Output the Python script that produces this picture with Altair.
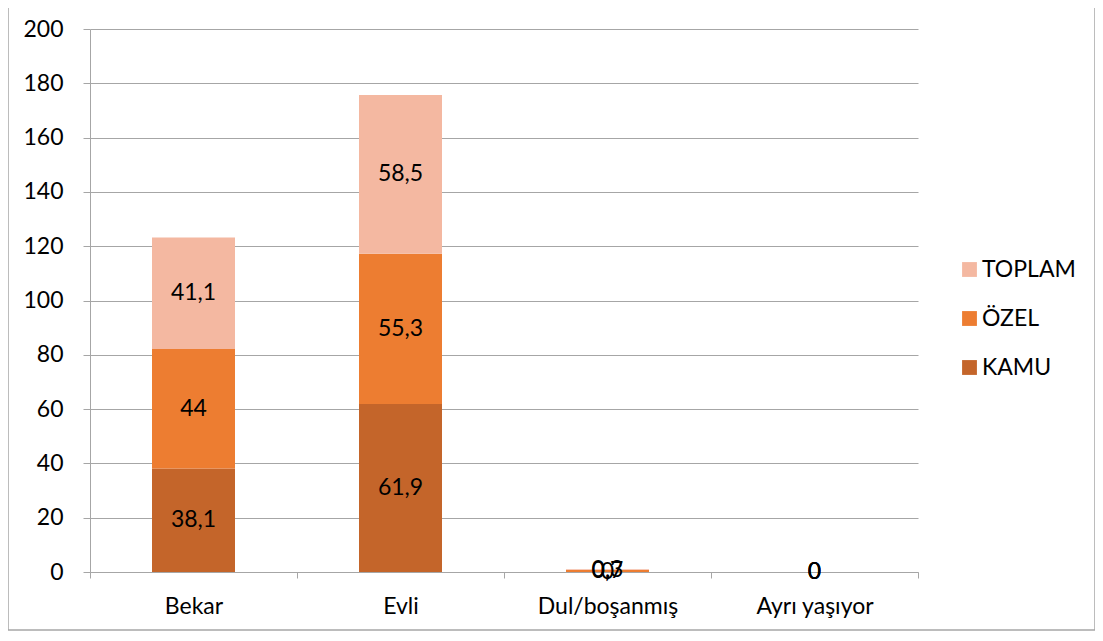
import altair as alt
import pandas as pd

categories = ["Bekar", "Evli", "Dul/boşanmış", "Ayrı yaşıyor"]
series = ["KAMU", "ÖZEL", "TOPLAM"]
kamu = [38.1, 61.9, 0, 0]
ozel = [44, 55.3, 0.7, 0]
toplam = [41.1, 58.5, 0.3, 0]
colors = {"KAMU": "#C4652A", "ÖZEL": "#ED7D31", "TOPLAM": "#F4B8A1"}
legend_order = ["TOPLAM", "ÖZEL", "KAMU"]
y_ticks = [0, 20, 40, 60, 80, 100, 120, 140, 160, 180, 200]

rows = []
for i, c in enumerate(categories):
    for k, (s, vals) in enumerate(zip(series, [kamu, ozel, toplam])):
        rows.append({"cat": c, "series": s, "value": vals[i], "ord": k})
df = pd.DataFrame(rows)

FONT = "Lato"
FS = 23

base = alt.Chart(df).transform_stack(
    stack="value", groupby=["cat"], as_=["y0", "y1"],
    sort=[alt.SortField("ord", order="ascending")]
).transform_calculate(
    mid="(datum.y0 + datum.y1) / 2",
    label="replace(toString(datum.value), '.', ',')"
)

xenc = alt.X("cat:N", sort=categories, title=None,
             scale=alt.Scale(paddingInner=0, paddingOuter=0),
             axis=alt.Axis(labelAngle=0, labelFontSize=FS, labelFont=FONT,
                           labelColor="#000000", tickBand="extent", tickSize=6,
                           tickColor="#A6A6A6", domainColor="#A6A6A6",
                           labelPadding=17, grid=False))

bars = base.mark_bar(size=83).encode(
    x=xenc,
    y=alt.Y("y0:Q", title=None,
            scale=alt.Scale(domain=[0, 200], nice=False),
            axis=alt.Axis(values=y_ticks, labelFontSize=FS, labelFont=FONT,
                          labelColor="#000000", tickSize=7, tickColor="#A6A6A6",
                          domainColor="#A6A6A6", gridColor="#A6A6A6",
                          labelPadding=20)),
    y2="y1:Q",
    color=alt.Color("series:N",
                    scale=alt.Scale(domain=legend_order,
                                    range=[colors[s] for s in legend_order]),
                    legend=alt.Legend(title=None, orient="none", legendX=868,
                                      legendY=229, symbolType="square",
                                      symbolSize=220, symbolStrokeWidth=0,
                                      labelFontSize=FS, labelFont=FONT,
                                      labelColor="#000000", rowPadding=25,
                                      labelOffset=1, symbolOpacity=1)),
)

labels = base.mark_text(fontSize=FS, font=FONT, color="#000000").encode(
    x=alt.X("cat:N", sort=categories),
    y=alt.Y("mid:Q"),
    text="label:N",
)

border = alt.Chart(pd.DataFrame({"a": [0]})).mark_rect(
    fillOpacity=0, stroke="#A6A6A6", strokeWidth=1.5
).encode(
    x=alt.value(-82), x2=alt.value(1005), y=alt.value(-40), y2=alt.value(601)
)

chart = alt.layer(bars, labels, border).properties(
    width=828, height=543,
    autosize=alt.AutoSizeParams(type="none"),
    padding={"left": 82, "top": 21, "right": 177, "bottom": 62},
).configure_view(stroke=None).configure_axis(domainWidth=1, gridWidth=1)

chart.save("out.html", embed_options={"renderer": "svg", "actions": False})
